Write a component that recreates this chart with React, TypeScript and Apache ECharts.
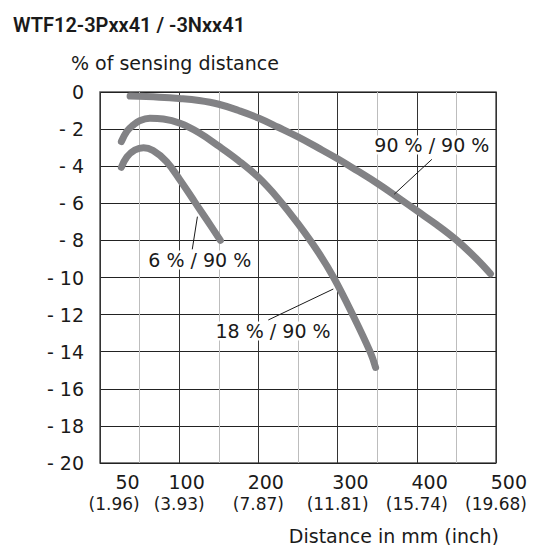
import React, { useEffect, useRef } from "react";
import * as echarts from "echarts";

const xTickValues = [50, 100, 200, 300, 400, 500];
const inchLabels = ["(1.96)", "(3.93)", "(7.87)", "(11.81)", "(15.74)", "(19.68)"];

const curve90: [number, number][] = [
  [38, -0.22], [75, -0.28], [100, -0.35], [125, -0.46], [150, -0.66], [175, -1.0],
  [200, -1.4], [225, -1.9], [250, -2.42], [275, -3.0], [300, -3.6], [325, -4.25],
  [350, -4.92], [375, -5.65], [400, -6.4], [425, -7.15], [450, -7.98], [475, -8.98], [493, -9.8],
];
const curve18: [number, number][] = [
  [27, -2.67], [34, -2.12], [42, -1.78], [50, -1.55], [63, -1.42], [80, -1.46], [101, -1.69],
  [125, -2.2], [150, -2.92], [175, -3.7], [200, -4.6], [225, -5.75], [250, -7.1], [275, -8.6],
  [295, -10.0], [319, -12.0], [341, -14.0], [348, -14.85],
];
const curve6: [number, number][] = [
  [27, -4.06], [34, -3.5], [44, -3.13], [55, -3.0], [67, -3.16], [84, -3.75], [101, -4.74],
  [120, -5.95], [135, -6.9], [152, -8.0],
];

const labels = ["90 % / 90 %", "18 % / 90 %", "6 % / 90 %"];
const labelPos: [number, number][] = [[419, -2.86], [218.5, -12.88], [126, -9.06]];
const leaders: [[number, number], [number, number]][] = [
  [[419, -3.63], [371.5, -5.51]],
  [[294.6, -10.62], [212.5, -12.29]],
  [[123, -6.72], [116.5, -8.48]],
];

const FONT = "'DejaVu Sans', sans-serif";
const FW = "normal";
const TXT = "#1a1a1a";
const CURVE = "#828285";

export default function App() {
  const ref = useRef<HTMLDivElement>(null);
  useEffect(() => {
    document.body.style.margin = "0";
    const chart = echarts.init(ref.current!, null, { renderer: "svg" });
    const curves = [curve90, curve18, curve6];
    const series: any[] = curves.map((d, i) => ({
      type: "line",
      data: d,
      smooth: 0.4,
      symbol: "none",
      lineStyle: { width: 7, color: CURVE, cap: "round", join: "round" },
      z: 3,
      markLine: {
        silent: true,
        symbol: "none",
        lineStyle: { color: TXT, width: 1, type: "solid" },
        label: { show: false },
        data: [[{ coord: leaders[i][0] }, { coord: leaders[i][1] }]],
        z: 4,
      },
      markPoint: {
        silent: true,
        symbol: "rect",
        symbolSize: 1,
        itemStyle: { color: "rgba(0,0,0,0)" },
        label: {
          show: true,
          position: "inside",
          formatter: labels[i],
          color: TXT,
          fontFamily: FONT,
          fontWeight: FW,
          fontSize: 19,
          backgroundColor: "#fff",
          padding: [0, 1],
        },
        data: [{ coord: labelPos[i] }],
        z: 5,
      },
    }));
    const nStyle = { fontSize: 19, fontFamily: FONT, fontWeight: FW, color: TXT, align: "right", lineHeight: 22 };
    const iStyle = { fontSize: 17, fontFamily: FONT, fontWeight: FW, color: TXT, lineHeight: 22 };
    chart.setOption({
      animation: false,
      grid: {
        left: 100, right: 44, top: 92, bottom: 82,
        show: true, borderColor: "#555", borderWidth: 1.5, containLabel: false,
      },
      xAxis: {
        type: "value", min: 0, max: 500, interval: 50,
        axisLine: { show: false },
        axisTick: { show: false },
        splitLine: { show: true, lineStyle: { color: ["#333", "#bdbdbd"], width: 1 } },
        axisLabel: {
          margin: 8,
          color: TXT,
          fontFamily: FONT,
          formatter: (v: number) => {
            const i = xTickValues.indexOf(v);
            if (i < 0) return "";
            if (v === 50) return `{n50|${v}}\n{i50|${inchLabels[i]}}`;
            return `{n|${v}}\n{i|${inchLabels[i]}}`;
          },
          rich: {
            n: nStyle,
            i: iStyle,
            n50: { ...nStyle, padding: [0, 51, 0, 0] },
            i50: { ...iStyle, padding: [0, 51, 0, 0] },
          },
        },
      },
      yAxis: {
        type: "value", min: -20, max: 0, interval: 2,
        axisLine: { show: false },
        axisTick: { show: false },
        splitLine: { show: true, lineStyle: { color: "#222", width: 1 } },
        axisLabel: {
          margin: 16,
          color: TXT,
          fontFamily: FONT,
          fontWeight: FW,
          fontSize: 19,
          formatter: (v: number) => (v === 0 ? "0" : "- " + Math.abs(v)),
        },
      },
      graphic: [
        {
          type: "text", left: 13, top: 15,
          style: { text: "WTF12-3Pxx41 / -3Nxx41", fill: TXT, font: `600 20px 'Roboto', sans-serif` },
        },
        {
          type: "text", left: 71, top: 53,
          style: { text: "% of sensing distance", fill: TXT, font: `${FW} 19px ${FONT}` },
        },
        {
          type: "text", right: 41, top: 526,
          style: { text: "Distance in mm (inch)", fill: TXT, font: `${FW} 19px ${FONT}` },
        },
      ],
      series,
    });
    return () => chart.dispose();
  }, []);
  return <div ref={ref} style={{ width: 540, height: 545 }} />;
}
